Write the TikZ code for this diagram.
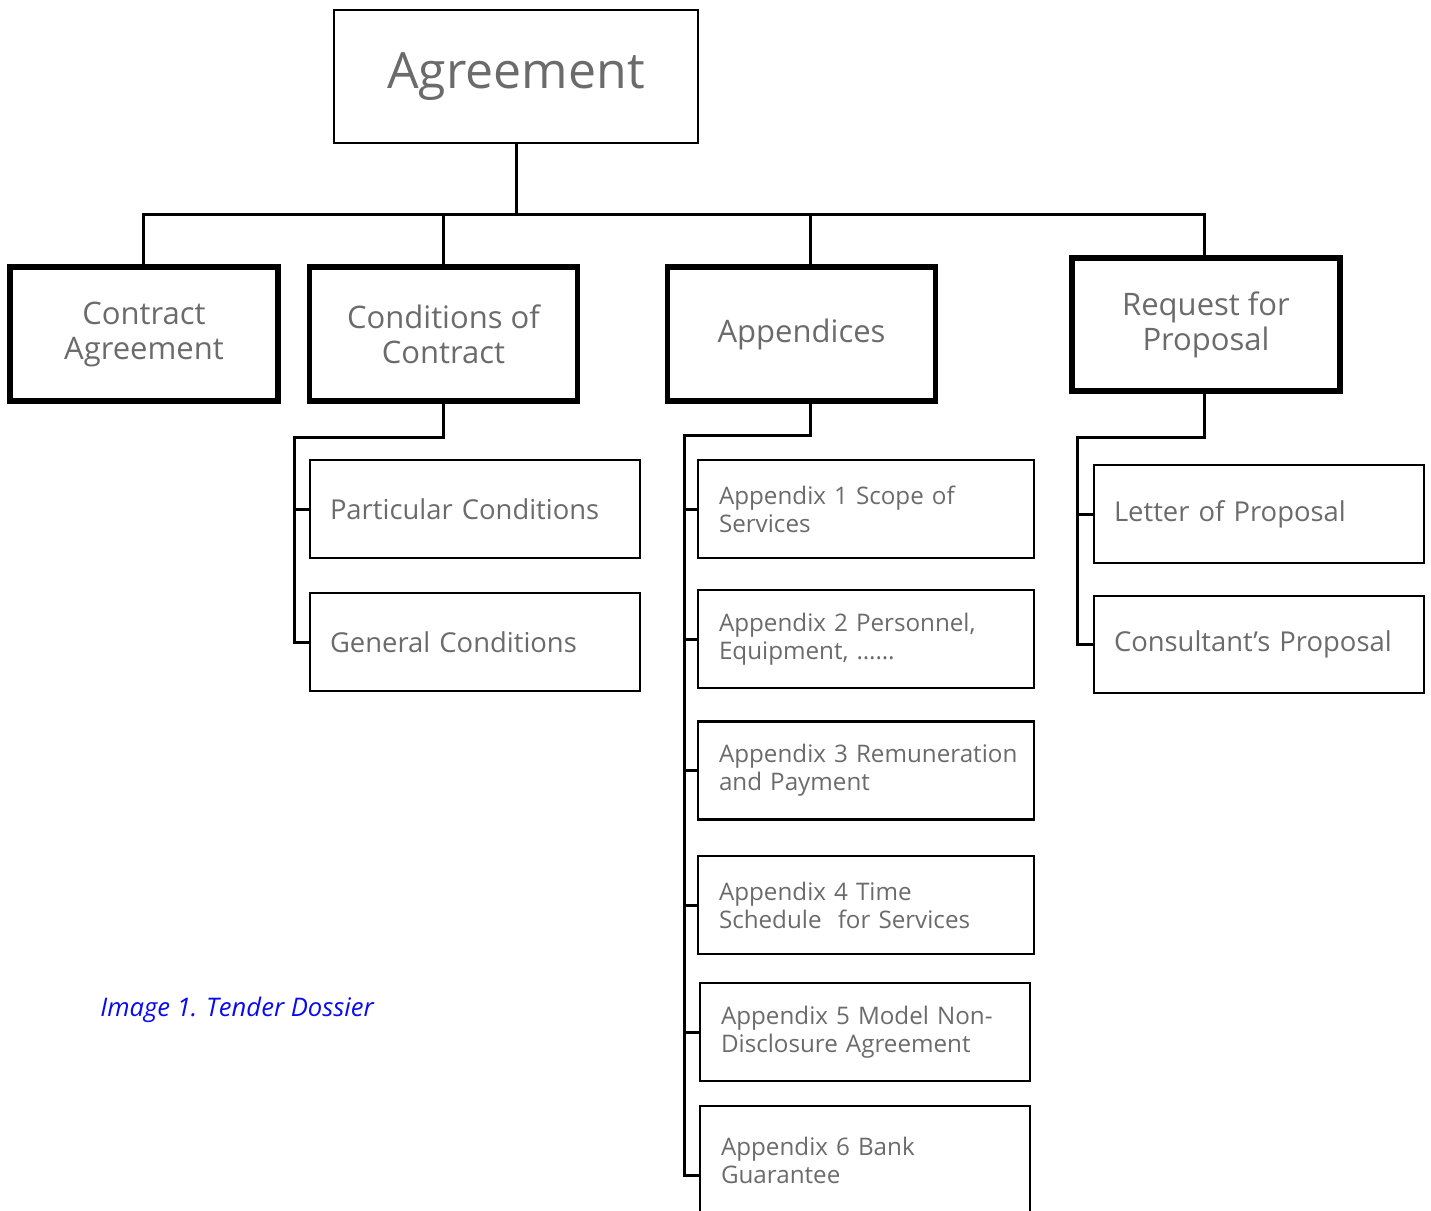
\documentclass[tikz,border=0pt]{standalone}
\usepackage{fontspec}
\setmainfont{Open Sans}
\definecolor{txt}{HTML}{6B6B6B}
\definecolor{cap}{HTML}{0A0AF0}
\hyphenpenalty=10000
\exhyphenpenalty=10000
\begin{document}
\begin{tikzpicture}[x=0.5pt,y=-0.5pt,
  base/.style={draw=black, text=txt, inner sep=0pt, align=center},
  topbox/.style={base, line width=1.3pt, minimum width=182pt, minimum height=66.5pt, font=\fontsize{25}{30}\selectfont},
  mainbox/.style={base, line width=2.6pt, minimum width=134pt, minimum height=67pt, font=\fontsize{15.5}{17.5}\selectfont},
  leafbox/.style={base, line width=1.2pt, align=left, inner xsep=10pt, text width=#1, minimum height=49pt, font=\fontsize{13.7}{16}\selectfont},
  appbox/.style={base, line width=1.2pt, align=left, inner xsep=10.5pt, text width=#1, minimum height=49pt, font=\fontsize{12.1}{14}\selectfont},
  conn/.style={line width=1.5pt}]
\useasboundingbox (0,0) rectangle (1431,1211);
\clip (0,0) rectangle (1431,1211);

\node[topbox] (ag) at (516,76.5) {Agreement};
\node[mainbox] (ca) at (144,334) {Contract\\Agreement};
\node[mainbox] (cc) at (443.5,334) {Conditions of\\Contract};
\node[mainbox] (ap) at (801.5,334) {Appendices};
\node[mainbox, minimum height=66.5pt] (rfp) at (1206,324.5) {Request for\\Proposal};

\node[leafbox=145pt] (pc) at (475,509) {Particular Conditions};
\node[leafbox=145pt] (gc) at (475,642) {General Conditions};

\node[appbox=147pt] (a1) at (866,509) {Appendix 1 Scope of\\Services};
\node[appbox=147pt] (a2) at (866,639) {Appendix 2 Personnel,\\Equipment, \dots\dots};
\node[appbox=147pt] (a3) at (866,770.5) {\mbox{Appendix 3 Remuneration}\\and Payment};
\node[appbox=147pt] (a4) at (866,905) {Appendix 4 Time\\Schedule\ \ for Services};
\node[appbox=144pt] (a5) at (865,1032) {Appendix 5 Model Non-\\Disclosure Agreement};
\node[appbox=144pt, minimum height=54pt] (a6) at (865,1160) {Appendix 6 Bank\\Guarantee};

\node[leafbox=145pt] (lp) at (1259,514) {Letter of Proposal};
\node[leafbox=145pt, minimum height=48.5pt] (cp) at (1259,644.5) {Consultant's Proposal};

\node[text=cap, font=\fontsize{12.8}{14}\selectfont\itshape, anchor=west, inner sep=0pt] (capt) at (100,1010) {Image 1. Tender Dossier};

% top level bus
\coordinate (bus) at (0,214);
\draw[conn] (ag.south) -- (ag.south |- bus);
\draw[conn] ([xshift=-0.5pt]ca.north) -- ([xshift=-0.5pt]ca.north |- bus) -- ([xshift=-1pt]rfp.north |- bus) -- ([xshift=-1pt]rfp.north);
\draw[conn] (cc.north) -- (cc.north |- bus);
\draw[conn] ([xshift=4.25pt]ap.north) -- ([xshift=4.25pt]ap.north |- bus);

% conditions subtree
\coordinate (cs) at (294,437);
\draw[conn] (cc.south) |- (cs) -- (cs |- gc.west) -- (gc.west);
\draw[conn] (cs |- pc.west) -- (pc.west);

% appendices subtree
\coordinate (as) at (684,435);
\coordinate (a6t) at ([yshift=-7.5pt]a6.west);
\draw[conn] ([xshift=4.25pt]ap.south) |- (as) -- (as |- a6t) -- (a6t);
\foreach \n in {a1,a2,a3,a4,a5} \draw[conn] (as |- \n.west) -- (\n.west);

% request subtree
\coordinate (rs) at (1077,437);
\draw[conn] ([xshift=-1pt]rfp.south) |- (rs) -- (rs |- cp.west) -- (cp.west);
\draw[conn] (rs |- lp.west) -- (lp.west);
\end{tikzpicture}
\end{document}
